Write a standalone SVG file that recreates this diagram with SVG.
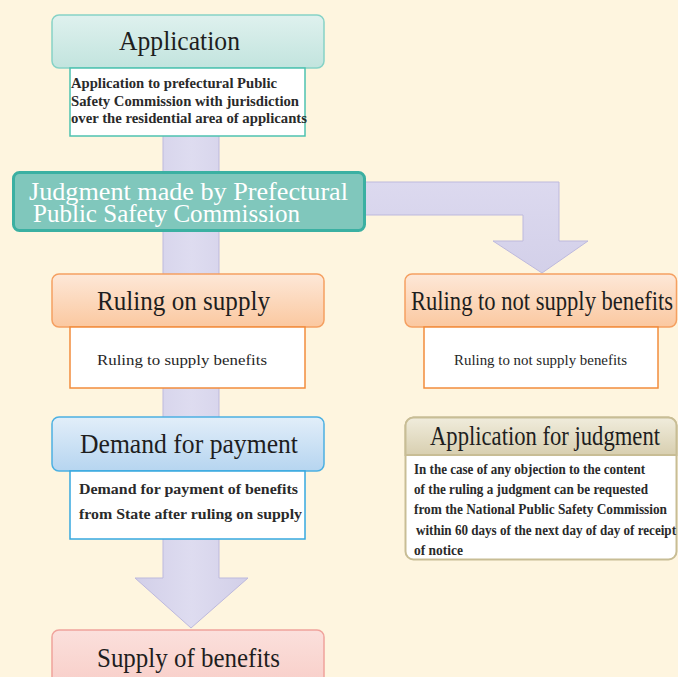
<svg xmlns="http://www.w3.org/2000/svg" width="678" height="677" viewBox="0 0 678 677">
  <defs>
    <linearGradient id="gTeal" x1="0" y1="0" x2="0" y2="1">
      <stop offset="0" stop-color="#dff1ee"/>
      <stop offset="1" stop-color="#c2e4de"/>
    </linearGradient>
    <linearGradient id="gOrange" x1="0" y1="0" x2="0" y2="1">
      <stop offset="0" stop-color="#fde8d8"/>
      <stop offset="1" stop-color="#fbc8a0"/>
    </linearGradient>
    <linearGradient id="gBlue" x1="0" y1="0" x2="0" y2="1">
      <stop offset="0" stop-color="#e2eef9"/>
      <stop offset="1" stop-color="#b6d5f0"/>
    </linearGradient>
    <linearGradient id="gPink" x1="0" y1="0" x2="0" y2="1">
      <stop offset="0" stop-color="#fbe0dc"/>
      <stop offset="1" stop-color="#f8cdc7"/>
    </linearGradient>
    <linearGradient id="gBeige" x1="0" y1="0" x2="0" y2="1">
      <stop offset="0" stop-color="#f0ecdc"/>
      <stop offset="1" stop-color="#d8cfb0"/>
    </linearGradient>
    <linearGradient id="gShaftV" x1="0" y1="0" x2="1" y2="0">
      <stop offset="0" stop-color="#d2cfe8"/>
      <stop offset="0.5" stop-color="#dedcf0"/>
      <stop offset="1" stop-color="#d2cfe8"/>
    </linearGradient>
    <linearGradient id="gShaftH" x1="0" y1="0" x2="0" y2="1">
      <stop offset="0" stop-color="#dcd9ef"/>
      <stop offset="1" stop-color="#d3d0e9"/>
    </linearGradient>
  </defs>
  <style>
    .t { fill: #1e1e1e; }
    .head { font-size: 27px; }
    .small { font-size: 14.5px; font-weight: bold; fill: #2a2a2a; }
    .light { font-weight: normal; fill: #262626; }
    .arrow { stroke: #bdb9dd; stroke-width: 1; }
    .desc { fill: #ffffff; stroke-width: 1.5; }
  </style>

  <!-- page background -->
  <rect x="0" y="0" width="678" height="677" fill="#fef5df"/>

  <!-- block arrows -->
  <g id="connectors">
    <polygon class="arrow" fill="url(#gShaftV)" points="163,130 219,130 219,578 248,578 191,628 135,578 163,578"/>
    <polygon class="arrow" fill="url(#gShaftH)" points="360,182 559,182 559,241 588,241 542,273 493,241 523,241 523,215 360,215"/>
  </g>

  <g font-family="'Liberation Serif', 'DejaVu Serif', serif">
  <!-- Application -->
  <g id="application">
    <rect x="52" y="15" width="272" height="53" rx="7" fill="url(#gTeal)" stroke="#86d2c6" stroke-width="1.5"/>
    <text class="t head" x="179.5" y="50" text-anchor="middle" textLength="121" lengthAdjust="spacingAndGlyphs">Application</text>
    <rect class="desc" x="70" y="68" width="235" height="68" stroke="#4ec2b0"/>
    <text class="t small" x="71" y="88" textLength="206" lengthAdjust="spacingAndGlyphs">Application to prefectural Public</text>
    <text class="t small" x="71" y="106" textLength="228" lengthAdjust="spacingAndGlyphs">Safety Commission with jurisdiction</text>
    <text class="t small" x="71" y="123" textLength="236" lengthAdjust="spacingAndGlyphs">over the residential area of applicants</text>
  </g>

  <!-- Judgment by prefectural commission -->
  <g id="judgment">
    <rect x="13.5" y="172.5" width="351" height="58" rx="6" fill="#80c7bc" stroke="#3bb0a2" stroke-width="3"/>
    <text x="29" y="200" font-size="26" fill="#ffffff" textLength="319" lengthAdjust="spacingAndGlyphs">Judgment made by Prefectural</text>
    <text x="33" y="222" font-size="26" fill="#ffffff" textLength="267" lengthAdjust="spacingAndGlyphs">Public Safety Commission</text>
  </g>

  <!-- Ruling on supply -->
  <g id="ruling-supply">
    <rect x="52" y="274" width="272" height="53" rx="7" fill="url(#gOrange)" stroke="#f5a061" stroke-width="1.5"/>
    <text class="t head" x="183.5" y="310" text-anchor="middle" textLength="173" lengthAdjust="spacingAndGlyphs">Ruling on supply</text>
    <rect class="desc" x="70" y="327" width="235" height="61" stroke="#f28c3c"/>
    <text class="t small light" x="182" y="365" text-anchor="middle" textLength="170" lengthAdjust="spacingAndGlyphs">Ruling to supply benefits</text>
  </g>

  <!-- Ruling to not supply -->
  <g id="ruling-not-supply">
    <rect x="405" y="274" width="271.5" height="53" rx="7" fill="url(#gOrange)" stroke="#f5a061" stroke-width="1.5"/>
    <text class="t head" x="542" y="310" text-anchor="middle" textLength="262" lengthAdjust="spacingAndGlyphs">Ruling to not supply benefits</text>
    <rect class="desc" x="424" y="327" width="234" height="61" stroke="#f28c3c"/>
    <text class="t small light" x="540.5" y="365" text-anchor="middle" textLength="173" lengthAdjust="spacingAndGlyphs">Ruling to not supply benefits</text>
  </g>

  <!-- Demand for payment -->
  <g id="demand-payment">
    <rect x="52" y="417" width="272" height="54" rx="7" fill="url(#gBlue)" stroke="#4cb0e2" stroke-width="1.5"/>
    <text class="t head" x="189" y="453" text-anchor="middle" textLength="218" lengthAdjust="spacingAndGlyphs">Demand for payment</text>
    <rect class="desc" x="70" y="471" width="235" height="68" stroke="#36a8e0"/>
    <text class="t small" x="79" y="494" textLength="219" lengthAdjust="spacingAndGlyphs">Demand for payment of benefits</text>
    <text class="t small" x="79" y="519" textLength="223" lengthAdjust="spacingAndGlyphs">from State after ruling on supply</text>
  </g>

  <!-- Application for judgment -->
  <g id="application-judgment">
    <rect x="405.5" y="417.5" width="271" height="142" rx="8" fill="#ffffff" stroke="#c8bd95" stroke-width="2"/>
    <path d="M405.5,455 V425.5 A8,8 0 0 1 413.5,417.5 H668.5 A8,8 0 0 1 676.5,425.5 V455 Z" fill="url(#gBeige)" stroke="#c8bd95" stroke-width="2"/>
    <text class="t head" x="545" y="445" text-anchor="middle" textLength="230" lengthAdjust="spacingAndGlyphs">Application for judgment</text>
    <text class="t small" x="414" y="474" textLength="231" lengthAdjust="spacingAndGlyphs">In the case of any objection to the content</text>
    <text class="t small" x="414" y="494" textLength="234" lengthAdjust="spacingAndGlyphs">of the ruling a judgment can be requested</text>
    <text class="t small" x="414" y="514" textLength="253" lengthAdjust="spacingAndGlyphs">from the National Public Safety Commission</text>
    <text class="t small" x="416" y="535" textLength="260" lengthAdjust="spacingAndGlyphs">within 60 days of the next day of day of receipt</text>
    <text class="t small" x="414" y="555" textLength="49" lengthAdjust="spacingAndGlyphs">of notice</text>
  </g>

  <!-- Supply of benefits -->
  <g id="supply-benefits">
    <rect x="52" y="630" width="272" height="60" rx="7" fill="url(#gPink)" stroke="#f0a39c" stroke-width="1.5"/>
    <text class="t head" x="188.5" y="667" text-anchor="middle" textLength="183" lengthAdjust="spacingAndGlyphs">Supply of benefits</text>
  </g>
  </g>
</svg>
